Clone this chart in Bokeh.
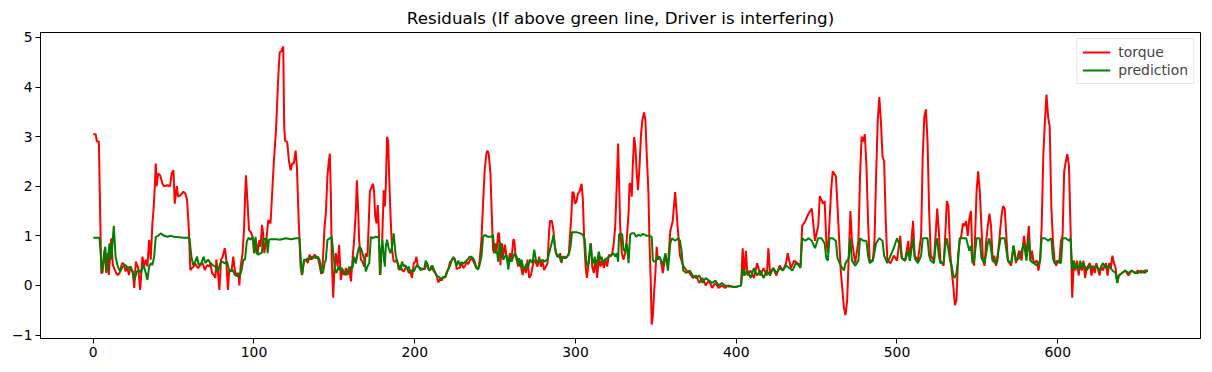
from bokeh.plotting import figure
from bokeh.models import Range1d, Legend, LegendItem
from bokeh.embed import file_html
from bokeh.resources import INLINE

title_text = "Residuals (If above green line, Driver is interfering)"
x_ticks = [0, 100, 200, 300, 400, 500, 600]
y_ticks = [-1, 0, 1, 2, 3, 4, 5]
series_names = ["torque", "prediction"]

# digitised (index, value) points
torque_pts = [
(0,3.05),(1.5,3.05),(2.3,2.9),(3.5,2.9),(5,0.25),(5.6,0.25),(7,0.72),(8.1,0.25),(8.7,0.65),(9.7,0.21),(11.2,0.95),(12.2,0.41),(14.3,0.25),(15.3,0.21),(16.4,0.25),(18,0.45),(19,0.44),(20.1,0.28),(21.1,0.38),(22.2,0.21),(23.2,0.38),(24.6,0.25),(25.5,-0.05),(26.5,0.48),(28,0.35),(29.2,-0.09),(30.6,0.58),(31.7,0.38),(32.7,0.52),(33.7,0.38),(34.8,0.92),(35.8,0.52),(36.8,1.25),(37.5,1.52),(38.3,1.99),(38.9,2.46),(39.5,2.0),(40.4,2.26),(41.6,2.22),(43.1,2.05),(44.1,2.0),(46.2,2.02),(47.8,2.0),(48.8,2.26),(49.9,2.32),(50.7,1.65),(52,2.0),(52.8,1.79),(54.4,1.82),(56.1,1.89),(57.3,1.85),(58.4,1.72),(59.4,1.18),(60.4,0.31),(61.4,0.35),(62.5,0.38),(63.1,0.48),(63.9,0.41),(65.2,0.35),(66.7,0.41),(68.1,0.45),(69.4,0.31),(70.8,0.41),(71.9,0.38),(72.9,0.45),(73.9,0.25),(75,0.21),(76,0.15),(76.6,0.52),(77.6,0.25),(78.5,-0.09),(79.5,0.52),(80.5,0.58),(81.8,0.75),(82.6,0.58),(83.8,-0.09),(84.6,0.31),(85.4,0.3),(86.1,0.31),(87.1,0.58),(88.2,0.28),(89.2,0.21),(90.3,0.25),(90.9,0.0),(91.7,0.38),(92.9,0.65),(93.8,1.12),(94.4,1.72),(95.0,2.22),(95.9,1.72),(96.9,1.12),(97.9,1.08),(99.2,0.98),(100,0.65),(101.3,0.88),(102.3,0.65),(103.3,0.92),(104.1,0.78),(105,1.22),(105.7,1.05),(106.4,0.65),(107.9,0.98),(108.9,1.32),(110.3,1.25),(111.4,1.92),(112.4,2.52),(113.7,3.13),(115.1,4.2),(116,4.7),(117,4.72),(118.2,4.82),(118.8,3.2),(119.4,2.92),(120.7,2.89),(121.7,2.52),(122.8,2.32),(123.8,2.46),(124.8,2.46),(125.9,2.72),(126.7,2.39),(127.8,1.32),(129,0.38),(129.8,0.21),(131.1,0.48),(132.5,0.52),(133.5,0.45),(134.6,0.62),(135.6,0.52),(136.6,0.55),(137.7,0.62),(138.7,0.58),(139.8,0.55),(140.8,0.41),(141.8,0.23),(142.9,0.52),(143.9,1.18),(144.7,1.45),(145.7,2.19),(146.4,2.46),(147.2,2.66),(147.8,1.85),(148.4,0.52),(149.3,-0.25),(149.9,0.25),(150.9,0.65),(152,0.38),(153,0.82),(154,0.11),(155.1,0.31),(156.1,0.21),(157.2,0.35),(158.2,0.21),(159.2,0.38),(160.3,0.08),(161.3,0.52),(162.3,0.92),(163.4,1.52),(164,2.12),(164.8,1.52),(165.4,0.92),(166.5,0.52),(167.5,0.48),(168.6,0.38),(169.6,0.65),(170.6,0.58),(171.3,1.18),(172.1,1.89),(173.3,2.0),(174.1,2.05),(174.8,1.85),(175.4,1.4),(176.2,1.25),(177,1.62),(177.6,1.18),(178.3,0.21),(179.1,0.58),(179.7,0.85),(180.7,1.92),(181.4,1.59),(182,1.99),(182.8,3.0),(183.5,2.9),(184.1,2.19),(184.9,1.45),(185.9,0.72),(186.9,0.48),(188,0.48),(189,0.52),(190.1,0.31),(191.1,0.41),(192.1,0.31),(193.2,0.28),(194.2,0.35),(195.2,0.35),(196.3,0.25),(197.3,0.28),(198.3,0.15),(199.4,0.45),(200.4,0.48),(201,0.58),(202,0.38),(203.5,0.35),(205.1,0.33),(206.4,0.33),(207.5,0.47),(208.5,0.33),(209.5,0.3),(210.5,0.4),(211.6,0.3),(212.6,0.26),(213.6,0.2),(214.7,0.06),(215.7,0.13),(216.7,0.1),(217.8,0.16),(218.8,0.16),(219.8,0.26),(220.9,0.33),(221.9,0.47),(222.9,0.5),(224,0.57),(225,0.53),(226.1,0.33),(227.1,0.35),(228.2,0.36),(229.2,0.47),(230.2,0.35),(231.2,0.39),(232.3,0.47),(233.3,0.43),(234.2,0.5),(235.2,0.55),(236.3,0.5),(237.3,0.43),(238.3,0.36),(239.4,0.33),(240.4,0.5),(241.5,0.92),(242.5,1.65),(243.5,2.32),(244.6,2.66),(245.2,2.72),(246,2.66),(247.1,2.26),(247.9,1.45),(248.7,0.72),(249.4,0.65),(250,0.85),(250.8,0.65),(251.9,1.05),(252.5,1.05),(253.3,0.41),(254.2,0.85),(255,0.58),(256.1,0.82),(257.1,0.58),(258.2,0.45),(259.2,0.65),(260.2,0.52),(261.3,0.92),(261.9,0.92),(262.8,0.58),(263.4,0.52),(264.4,0.38),(265,0.45),(266.1,0.38),(267.1,0.21),(268.1,0.38),(269.2,0.25),(270.2,0.52),(271.2,0.15),(272.3,0.21),(273.3,0.38),(274.3,0.52),(275.4,0.45),(276.4,0.38),(277.4,0.58),(278.5,0.38),(279.5,0.48),(280.5,0.31),(281.6,0.38),(282.6,0.45),(283.6,1.1),(284.2,1.3),(285.3,1.3),(286.3,1.1),(287.2,0.78),(287.8,0.65),(288.8,0.58),(289.9,0.58),(290.5,0.65),(291.3,0.45),(292,0.58),(293,0.58),(294,0.55),(294.8,0.58),(295.9,0.65),(296.7,1.05),(297.5,1.45),(298.1,1.89),(299,1.85),(299.6,1.65),(300.6,1.69),(301.5,1.85),(302.5,1.89),(303.8,2.05),(304.6,1.72),(305.4,0.92),(306.3,0.38),(307.1,0.15),(307.9,0.38),(308.7,0.65),(309.6,0.85),(310.4,0.38),(311.4,0.25),(312.4,0.52),(313.5,0.15),(314.5,0.58),(315.6,0.38),(316.6,0.52),(317.6,0.35),(318.7,0.52),(319.7,0.38),(320.8,0.62),(321.8,0.58),(322.8,0.65),(323.6,0.78),(324.7,1.18),(325.7,2.05),(326.5,2.86),(327.1,2.12),(327.8,1.18),(328.8,0.65),(329.9,0.52),(330.9,0.65),(331.9,0.92),(333,1.45),(333.6,2.05),(334.4,2.05),(335,1.79),(335.6,2.39),(336.5,2.99),(337.3,2.79),(338.1,2.26),(338.9,1.92),(339.8,2.39),(340.8,3.06),(341.6,3.33),(342.7,3.49),(343.5,3.33),(344.3,2.66),(345.4,1.85),(346,0.92),(346.8,0.11),(347.4,-0.79),(348.1,-0.62),(348.9,-0.15),(349.7,0.25),(350.5,0.78),(351.2,0.52),(352,0.58),(353,0.52),(354.3,0.25),
(356,0.6),(357.5,0.4),(359,1.1),(360.5,1.3),(362,1.88),(363.5,1.2),(365,0.6),(367,0.4),(369,0.3),(371,0.25),(373,0.15),(375,0.2),(377,0.05),(379,0.15),(381,0.0),(383,0.1),(385,-0.05),(387,0.05),(389,-0.05),(391,0.0),(393,-0.05),(395,0.0),(397,-0.02),(399,-0.03),(401,-0.02),(403,0.0),(404,0.75),(405,0.2),(406,0.7),(407,0.2),(409,0.3),(411,0.15),(413,0.45),(415,0.2),(417,0.35),(419,0.2),(420,0.75),(421,0.25),(423,0.35),(425,0.2),(427,0.4),(429,0.3),(431,0.45),(432,0.65),(434,0.35),(436,0.5),(438,0.45),(440,0.4),(441,1.2),(443,1.3),(445,1.45),(447,1.55),(449,0.9),(451,1.2),(452,1.8),(454,1.65),(455,1.7),(456,0.9),(457,0.65),(459,1.9),(460,2.3),(462,2.2),(463,1.6),(465,0.3),(467,-0.45),(468,-0.6),(469,-0.3),(470,0.6),(471,1.5),(472,0.9),(474,0.45),(476,0.9),(477,2.2),(478,3.0),(479,2.9),(480,3.05),(481,2.4),(482,1.3),(483,0.5),(485,0.5),(486,0.9),(487,2.2),(488,3.3),(489,3.8),(490,3.3),(491,2.6),(492,2.5),(493,1.3),(494,0.5),(496,0.45),(498,0.6),(500,0.5),(502,1.0),(503,0.55),(505,0.5),(507,0.9),(508,0.5),(510,1.3),(511,0.6),(513,0.5),(515,1.0),(516,2.6),(517,3.4),(518,3.55),(519,2.9),(520,1.5),(521,0.6),(523,0.5),(524,1.0),(525,1.55),(526,1.1),(527,0.5),(529,0.4),(530,1.0),(531,1.7),(532,1.6),(533,0.7),(534,0.3),(535,0.0),(536,-0.4),(537,-0.3),(538,0.6),(539,0.9),(540,1.0),(541,1.25),(542,1.2),(543,1.3),(544,1.0),(545,1.35),(546,1.5),(547,0.5),(548,0.4),(549.5,1.9),(550.5,2.3),(551.5,1.9),(552.5,1.2),(553.5,0.5),(554.5,0.4),(555.5,0.9),(556.5,1.2),(557.5,1.45),(558.5,1.2),(559.5,0.5),(560.5,0.6),(561.5,0.4),(562.5,0.5),(564,1.05),(565,1.4),(566,1.6),(567,1.55),(568,1.0),(569,0.5),(571,0.4),(572.5,0.8),(574,0.45),(576,0.7),(577.5,0.5),(579,1.0),(580.5,0.6),(582,1.2),(583,0.5),(584,0.7),(585,0.45),(587,0.5),(588,0.3),(589,0.5),(590,1.2),(591,2.6),(592,3.3),(593,3.85),(594,3.4),(595,3.2),(596,1.6),(597,0.9),(598,0.5),(599,0.4),(600,0.5),(601,0.45),(602,0.9),(603,1.0),(604,2.3),(605,2.5),(606,2.65),(607,2.4),(608,1.1),(609,-0.25),(610,0.5),(611,0.3),(612,0.5),(613,0.2),(614,0.45),(615,0.3),(616,0.5),(617,0.15),(618,0.35),(620,0.45),(621,0.2),(622,0.4),(623,0.25),(624,0.45),(626,0.2),(627,0.4),(628,0.3),(630,0.45),(631,0.2),(632,0.45),(633,0.35),(634,0.6),(635,0.45),(636,0.35),(637,0.05),(638,0.2),(640,0.25),(642,0.3),(644,0.2),(646,0.3),(648,0.25),(650,0.3),(652,0.25),(654,0.3),(656,0.3),
]

prediction_pts = [
(0,0.96),(3.9,0.96),(5.6,0.25),(7.5,0.78),(8.5,0.28),(10.1,0.85),(11.2,0.52),(12.8,1.2),(13.9,0.58),(15.3,0.38),(16.8,0.28),(18.4,0.38),(20.1,0.41),(21.5,0.35),(23.2,0.38),(24.6,0.28),(25.6,0.1),(27.1,0.28),(28.6,0.31),(29.6,0.25),(31.3,0.41),(32.7,0.25),(33.7,0.11),(34.8,0.38),(35.8,0.45),(36.8,0.41),(37.9,0.58),(38.9,0.98),(40.4,1.0),(42,1.05),(44.1,1.0),(46.2,0.98),(48.3,1.0),(50.3,0.98),(53.4,0.97),(56.1,0.96),(59.8,0.96),(61.1,0.58),(62.1,0.41),(63.1,0.45),(64.6,0.58),(65.6,0.41),(67.3,0.45),(68.7,0.58),(69.8,0.45),(71.4,0.52),(72.9,0.45),(74.3,0.41),(76,0.38),(77.6,0.28),(79.1,0.45),(80.5,0.48),(81.8,0.44),(83.2,0.48),(84.2,0.35),(85.1,0.28),(86.7,0.31),(88.2,0.21),(89.6,0.19),(91.3,0.21),(92.3,0.31),(93.4,0.52),(94.4,0.52),(95.5,0.88),(96.5,0.96),(97.9,0.92),(98.8,0.98),(99.6,0.92),(100.2,0.65),(101.0,0.98),(101.7,0.65),(102.7,0.62),(103.7,0.65),(104.8,0.65),(105.8,0.95),(106.8,0.92),(107.9,0.95),(108.5,0.65),(109.3,0.92),(110.3,0.93),(112,0.93),(114.1,0.93),(116,0.92),(119.9,0.95),(123,0.93),(126.3,0.95),(128.3,0.95),(129.4,0.38),(130.0,0.21),(131.1,0.52),(132.5,0.52),(133.5,0.55),(134.6,0.52),(135.6,0.58),(136.6,0.58),(137.7,0.56),(138.7,0.55),(139.8,0.58),(140.8,0.52),(141.8,0.28),(142.9,0.25),(143.9,0.45),(144.7,0.52),(145.7,0.92),(147.2,0.95),(148.4,0.98),(149.3,0.65),(150.5,0.31),(151.3,0.25),(152.6,0.38),(153.4,0.31),(154.6,0.35),(156.1,0.25),(157.2,0.21),(158.2,0.31),(159.2,0.28),(160.3,0.38),(161.3,0.35),(162.3,0.58),(163.4,0.44),(164.4,0.65),(165.4,0.78),(166.5,0.75),(167.5,0.65),(168.6,0.52),(169.6,0.28),(170.6,0.38),(171.7,0.45),(172.7,0.98),(173.7,0.95),(175.4,0.98),(177.6,0.97),(178.3,0.52),(178.7,0.21),(179.1,0.65),(179.9,0.92),(180.7,0.58),(181.4,0.38),(182,0.78),(182.8,0.92),(183.8,0.75),(184.9,0.65),(185.9,0.78),(186.9,1.05),(188,0.65),(189,0.48),(190.1,0.38),(191.1,0.31),(192.1,0.48),(193.2,0.38),(194.2,0.41),(195.2,0.33),(196.3,0.38),(197.3,0.25),(198.3,0.31),(199.4,0.28),(200.4,0.35),(201.4,0.41),(202.4,0.38),(203.5,0.31),(205.1,0.33),(205.9,0.33),(206.8,0.5),(207.7,0.44),(209,0.3),(210.2,0.33),(211.0,0.4),(212.2,0.3),(213.6,0.2),(215.1,0.17),(216.4,0.13),(217.8,0.17),(219.2,0.17),(220.5,0.3),(222,0.4),(222.9,0.5),(224,0.57),(225,0.5),(226.1,0.4),(227.1,0.5),(228.2,0.4),(229.2,0.47),(230.2,0.44),(231.2,0.47),(232.3,0.5),(233.3,0.54),(234.2,0.58),(235.2,0.58),(236.3,0.55),(237.3,0.48),(238.3,0.35),(239.4,0.32),(240.4,0.42),(241.5,0.58),(242.5,0.98),(243.5,1.02),(245.6,0.98),(247.7,0.98),(248.7,1.02),(249.4,0.75),(250.4,0.65),(251.2,0.68),(251.9,0.48),(252.9,0.88),(253.9,0.72),(255,0.52),(256.1,0.58),(257.1,0.62),(258.2,0.32),(259.2,0.58),(260.2,0.48),(261.3,0.58),(262.3,0.65),(263.4,0.58),(264.4,0.45),(265,0.55),(265.7,0.38),(266.5,0.52),(267.7,0.31),(268.5,0.35),(269.7,0.45),(270.6,0.38),(271.8,0.52),(273.3,0.45),(274.3,0.72),(275.4,0.52),(276.4,0.45),(277.4,0.52),(278.5,0.48),(279.5,0.52),(280.5,0.48),(282.6,0.52),(283.6,0.65),(284.6,0.78),(285.7,0.92),(286.3,1.02),(287.2,0.78),(288,0.65),(288.8,0.58),(289.9,0.62),(290.9,0.48),(292,0.58),(293,0.55),(294.7,0.58),(295.9,0.62),(296.9,0.78),(297.9,1.08),(299,1.07),(301,1.07),(303.1,1.05),(304.6,1.02),(305.8,0.92),(306.6,0.52),(307.4,0.38),(308.3,0.45),(309.3,0.85),(310.4,0.52),(311.4,0.45),(312,0.58),(312.8,0.38),(313.7,0.52),(314.5,0.68),(315.6,0.52),(316.2,0.58),(317,0.45),(318.3,0.52),(319.7,0.55),(320.8,0.58),(321.8,0.6),(322.8,0.62),(323.6,0.65),(324.7,0.58),(325.7,0.65),(326.5,0.48),(327.1,1.02),(328.1,1.05),(329.1,1.02),(329.9,0.72),(330.9,0.68),(331.9,0.85),(333,0.45),(334,1.02),(335,1.05),(336.5,1.05),(337.7,0.98),(339.2,1.02),(340.6,1.0),(341.8,1.04),(343.3,1.02),(344.3,1.0),(346,1.0),(347.4,0.98),(348.1,0.52),(348.9,0.48),(350.1,0.48),(350.9,0.58),(352.1,0.58),(353,0.52),(354.3,0.41),
(356,0.65),(357.5,0.3),(359,0.85),(360,0.95),(362,0.9),(364,0.95),(365,0.9),(366,0.7),(367,0.3),(369,0.25),(371,0.3),(373,0.2),(375,0.15),(377,0.2),(379,0.05),(381,0.15),(383,0.1),(385,0.05),(387,0.1),(389,0.0),(391,0.05),(393,0.0),(395,-0.02),(397,-0.02),(399,-0.03),(401,-0.02),(403,0.0),(404,0.35),(405,0.2),(407,0.3),(409,0.15),(411,0.35),(413,0.2),(415,0.3),(417,0.15),(419,0.3),(421,0.2),(423,0.35),(425,0.25),(427,0.35),(429,0.3),(431,0.4),(433,0.35),(435,0.3),(437,0.45),(439,0.4),(440,0.35),(441,0.95),(443,0.9),(445,0.95),(447,0.9),(449,0.75),(451,0.95),(453,0.95),(455,0.85),(456,0.55),(457,0.5),(458,0.95),(460,0.95),(462,0.9),(463,0.55),(465,0.4),(467,0.3),(468,0.45),(470,0.55),(471,0.95),(472,0.5),(474,0.4),(476,0.5),(477,0.95),(479,0.9),(481,0.9),(482,0.6),(483,0.45),(485,0.5),(487,0.85),(489,0.95),(491,0.9),(492,0.6),(494,0.45),(496,0.6),(498,0.75),(500,0.95),(502,0.8),(503,0.55),(505,0.5),(507,0.7),(508,0.5),(510,0.95),(511,0.55),(513,0.45),(515,0.6),(516,0.95),(519,0.95),(520,0.6),(521,0.5),(523,0.45),(524,0.8),(525,0.95),(526,0.6),(527,0.45),(529,0.45),(530,0.8),(531,0.95),(533,0.5),(534,0.4),(535,0.2),(536,0.15),(537,0.25),(538,0.5),(539,0.95),(541,0.95),(543,0.95),(545,0.7),(546,0.8),(547,0.45),(548,0.5),(549.5,0.95),(551.5,0.95),(552.5,0.55),(554.5,0.45),(556.5,0.85),(557.5,0.95),(559.5,0.5),(561.5,0.45),(562.5,0.6),(564.5,0.95),(567,0.95),(569,0.5),(571,0.45),(572.5,0.8),(574,0.5),(576,0.55),(579,0.85),(580.5,0.5),(582,0.95),(583,0.5),(585,0.45),(587,0.4),(589,0.5),(590,0.95),(592,0.95),(594,0.9),(596,0.95),(597,0.55),(598,0.45),(600,0.5),(602,0.45),(603,0.95),(605,0.95),(607,0.9),(608,0.95),(609,0.3),(610,0.5),(611,0.35),(612,0.4),(613,0.3),(614,0.5),(615,0.35),(616,0.45),(618,0.3),(620,0.4),(622,0.35),(624,0.4),(626,0.3),(628,0.45),(630,0.35),(632,0.4),(634,0.3),(636,0.25),(637,0.05),(638,0.2),(640,0.25),(642,0.3),(644,0.25),(646,0.3),(648,0.25),(650,0.25),(652,0.3),(654,0.25),(656,0.3),
]

torque_x = [p[0] for p in torque_pts]
torque_y = [p[1] for p in torque_pts]
prediction_x = [p[0] for p in prediction_pts]
prediction_y = [p[1] for p in prediction_pts]

FONT = "DejaVu Sans"

xmin, xmax = 0, 656
ymin, ymax = -0.79, 4.82
xpad = (xmax - xmin) * 0.05
ypad = (ymax - ymin) * 0.05

p = figure(width=1212, height=372, output_backend="svg", toolbar_location=None,
           x_range=Range1d(xmin - xpad, xmax + xpad),
           y_range=Range1d(ymin - ypad, ymax + ypad),
           min_border_left=40, min_border_right=12, min_border_top=30,
           min_border_bottom=34, background_fill_color="white",
           border_fill_color="white")

p.title.text = title_text
p.title.align = "center"
p.title.text_font = FONT
p.title.text_font_style = "normal"
p.title.text_font_size = "16.7px"
p.title.text_color = "black"
p.title.offset = 0

p.grid.visible = False
p.outline_line_color = "black"
p.outline_line_width = 1
p.outline_line_alpha = 1

for ax in (p.xaxis[0], p.yaxis[0]):
    ax.major_tick_in = 0
    ax.major_tick_out = 5
    ax.minor_tick_line_color = None
    ax.axis_line_color = "black"
    ax.major_tick_line_color = "black"
    ax.major_label_text_font = FONT
    ax.major_label_text_font_size = "13.9px"
    ax.major_label_text_color = "black"
    ax.major_label_standoff = 3
p.xaxis.ticker = x_ticks
p.yaxis.ticker = y_ticks

r1 = p.line(torque_x, torque_y, line_color="red", line_width=2.0)
r2 = p.line(prediction_x, prediction_y, line_color="green", line_width=2.0)

legend = Legend(items=[LegendItem(label=series_names[0], renderers=[r1]),
                       LegendItem(label=series_names[1], renderers=[r2])],
                location="top_right")
legend.label_text_font = FONT
legend.label_text_font_size = "13.9px"
legend.border_line_color = "#cccccc"
legend.border_line_width = 1
legend.background_fill_color = "white"
legend.background_fill_alpha = 0.8
legend.glyph_width = 28
legend.glyph_height = 16
legend.label_standoff = 8
legend.spacing = 2
legend.padding = 5
legend.margin = 6
p.add_layout(legend)

open("out.html", "w").write(file_html(p, INLINE))
